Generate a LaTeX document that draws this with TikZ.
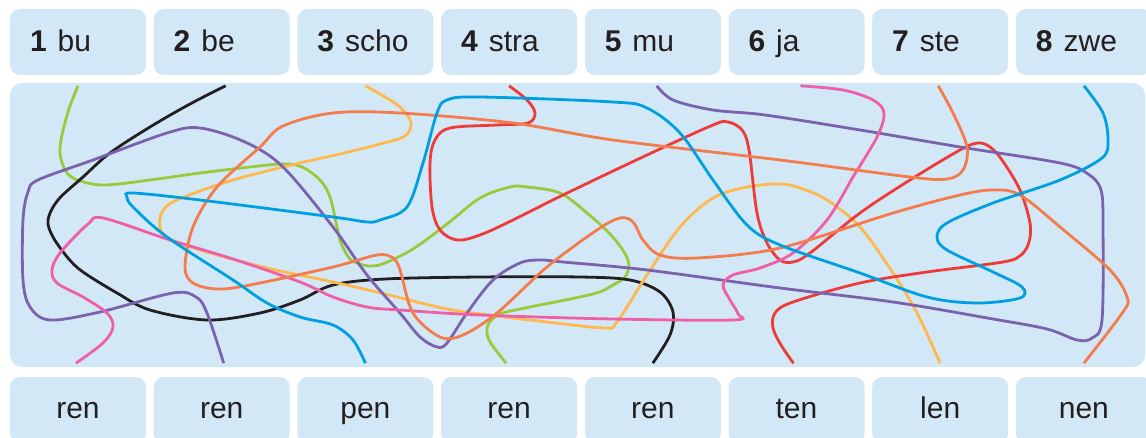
\documentclass[tikz,border=0pt]{standalone}
\usepackage{fontspec}
\setmainfont{Liberation Sans}
\usepackage{tikz}

\definecolor{boxblue}{HTML}{D3E8F6}
\definecolor{inkgrey}{HTML}{231F20}
\definecolor{wgreen}{HTML}{9ACA3C}
\definecolor{wblack}{HTML}{231F20}
\definecolor{wyellow}{HTML}{FDB94E}
\definecolor{wred}{HTML}{EE3B39}
\definecolor{wpurple}{HTML}{7B62AE}
\definecolor{wpink}{HTML}{EF5FA7}
\definecolor{worange}{HTML}{F47B4B}
\definecolor{wblue}{HTML}{00A0E0}

\tikzset{
  syllable/.style={rectangle, rounded corners=10pt, fill=boxblue, minimum width=136pt, minimum height=66pt,
    inner xsep=20pt, inner ysep=0pt, text width=96pt, align=left, text height=24pt, text depth=4pt,
    text=inkgrey, font=\fontsize{30}{36}\selectfont},
  ending/.style={rectangle, rounded corners=10pt, fill=boxblue, minimum width=136pt, minimum height=66pt,
    inner sep=0pt, text height=16pt, text depth=0pt, text=inkgrey, font=\fontsize{30}{36}\selectfont},
  board/.style={rectangle, rounded corners=12pt, fill=boxblue, minimum width=1135pt, minimum height=284pt, inner sep=0pt},
  wire/.style={line width=2.8pt}
}

\begin{document}
\begin{tikzpicture}[x=1pt, y=-1pt]
      % Frame
      \useasboundingbox (0,0) rectangle (1146,438);
      \clip (0,0) rectangle (1146,438);

      % Syllables
      \node[syllable] (syl1) at (78,42)     {\textbf{1}\hspace{11pt}bu};
      \node[syllable] (syl2) at (221.7,42)  {\textbf{2}\hspace{11pt}be};
      \node[syllable] (syl3) at (365.4,42)  {\textbf{3}\hspace{11pt}scho};
      \node[syllable] (syl4) at (509.1,42)  {\textbf{4}\hspace{11pt}stra};
      \node[syllable] (syl5) at (652.8,42)  {\textbf{5}\hspace{11pt}mu};
      \node[syllable] (syl6) at (796.5,42)  {\textbf{6}\hspace{11pt}ja};
      \node[syllable] (syl7) at (940.2,42)  {\textbf{7}\hspace{11pt}ste};
      \node[syllable] (syl8) at (1083.9,42) {\textbf{8}\hspace{11pt}zwe};

      % Board
      \node[board] (panel) at (577.5,225) {};

      % Endings
      \node[ending] (end1) at (78,410)     {ren};
      \node[ending] (end2) at (221.7,410)  {ren};
      \node[ending] (end3) at (365.4,410)  {pen};
      \node[ending] (end4) at (509.1,410)  {ren};
      \node[ending] (end5) at (652.8,410)  {ren};
      \node[ending] (end6) at (796.5,410)  {ten};
      \node[ending] (end7) at (940.2,410)  {len};
      \node[ending] (end8) at (1083.9,410) {nen};

      % Line ends
      \coordinate[yshift=-3pt] (top1) at (syl1.south |- panel.north);
      \coordinate[xshift=4pt, yshift=-3pt] (top2) at (syl2.south |- panel.north);
      \coordinate[yshift=-3pt] (top3) at (syl3.south |- panel.north);
      \coordinate[yshift=-3pt] (top4) at (syl4.south |- panel.north);
      \coordinate[xshift=4pt, yshift=-3pt] (top5) at (syl5.south |- panel.north);
      \coordinate[xshift=4pt, yshift=-3pt] (top6) at (syl6.south |- panel.north);
      \coordinate[xshift=-2pt, yshift=-3pt] (top7) at (syl7.south |- panel.north);
      \coordinate[yshift=-3pt] (top8) at (syl8.south |- panel.north);
      \coordinate[xshift=-2pt, yshift=4pt] (bot1) at (end1.north |- panel.south);
      \coordinate[xshift=2pt, yshift=4pt] (bot2) at (end2.north |- panel.south);
      \coordinate[yshift=4pt] (bot3) at (end3.north |- panel.south);
      \coordinate[xshift=-3pt, yshift=4pt] (bot4) at (end4.north |- panel.south);
      \coordinate[yshift=4pt] (bot5) at (end5.north |- panel.south);
      \coordinate[xshift=-3pt, yshift=4pt] (bot6) at (end6.north |- panel.south);
      \coordinate[yshift=4pt] (bot7) at (end7.north |- panel.south);
      \coordinate[yshift=4pt] (bot8) at (end8.north |- panel.south);

      % Lines
      % bu - ren
      \draw[wire, wgreen] plot[smooth, tension=0.55] coordinates {(top1) (68,112) (60,147) (64,168) (75,179) (103,185)
        (150,180) (200,173) (250,167) (283,164) (302,167) (320,180) (330,197) (337,227) (341,243) (350,259)
        (363,265) (373,266) (385,263) (413,249) (447,224) (480,198) (510,187) (527,187) (560,193) (587,213)
        (610,234) (624,252) (629,265) (625,277) (613,285) (593,294) (530,307) (500,314) (488,325) (489,340) (bot4)};
      % be - ren
      \draw[wire, wblack] plot[smooth, tension=0.55] coordinates {(top2) (190,104) (150,127) (110,153) (83,177)
        (58,200) (48,220) (53,237) (68,258) (83,272) (117,293) (150,310) (207,320) (260,313) (300,300) (333,285)
        (385,279) (480,277) (580,277) (630,280) (660,292) (673,312) (670,335) (bot5)};
      % scho - len
      \draw[wire, wyellow] plot[smooth, tension=0.55] coordinates {(top3) (385,97) (400,107) (411,122) (405,136)
        (380,144) (340,154) (300,163) (233,180) (177,200) (162,212) (160,227) (168,238) (200,250) (267,268)
        (333,282) (385,294) (447,309) (497,316) (547,322) (605,328) (617,322) (647,275) (680,227) (713,198)
        (747,187) (780,184) (800,188) (827,200) (860,227) (893,273) (917,313) (bot7)};
      % stra - ten
      \draw[wire, wred] plot[smooth, tension=0.55] coordinates {(top4) (527,100) (535,113) (528,123) (497,125)
        (450,128) (435,140) (430,163) (432,207) (440,230) (457,240) (480,235) (513,220) (563,195) (647,155)
        (713,125) (728,122) (742,130) (749,150) (757,213) (767,243) (780,260) (793,262) (810,253) (860,213)
        (910,180) (960,150) (978,143) (990,147) (1002,160) (1020,190) (1030,223) (1029,242) (1021,255)
        (1003,262) (927,272) (860,283) (793,302) (775,313) (773,328) (781,345) (bot6)};
      % mu - ren
      \draw[wire, wpurple] plot[smooth, tension=0.55] coordinates {(top5) (673,100) (713,110) (765,115) (860,130)
        (960,147) (1060,163) (1088,174) (1101,190) (1103,227) (1102,320) (1092,338) (1077,340) (1047,329)
        (993,319) (893,302) (780,288) (647,270) (563,262) (540,260) (520,263) (493,280) (467,313) (447,343)
        (437,347) (420,337) (400,313) (367,275) (333,227) (283,167) (245,142) (200,128) (167,133) (93,160)
        (38,180) (28,192) (23,220) (23,280) (30,307) (50,320) (100,312) (173,293) (196,297) (207,313) (bot2)};
      % ja - ren
      \draw[wire, wpink] plot[smooth, tension=0.55] coordinates {(top6) (843,90) (873,100) (884,113) (877,137)
        (853,177) (827,220) (793,253) (760,268) (733,275) (723,285) (730,300) (738,314) (733,320) (613,319)
        (480,315) (400,310) (367,307) (333,297) (300,282) (233,259) (167,239) (103,218) (88,224) (60,253)
        (52,270) (57,283) (83,297) (107,313) (113,327) (103,343) (bot1)};
      % ste - nen
      \draw[wire, worange] plot[smooth, tension=0.55] coordinates {(top7) (953,113) (967,147) (963,170) (947,179)
        (910,177) (780,160) (613,140) (513,123) (400,113) (333,113) (283,126) (260,147) (217,187) (193,227)
        (185,267) (193,283) (217,289) (250,285) (333,267) (377,255) (393,258) (400,270) (413,313) (440,337)
        (463,335) (497,313) (547,267) (597,230) (620,218) (633,222) (643,240) (660,255) (697,258) (780,248)
        (893,213) (960,195) (993,190) (1020,195) (1060,227) (1110,270) (1127,297) (1123,312) (bot8)};
      % zwe - pen
      \draw[wire, wblue] plot[smooth, tension=0.55] coordinates {(top8) (1103,113) (1108,140) (1102,158)
        (1060,180) (993,203) (947,223) (937,237) (947,250) (993,272) (1022,287) (1020,298) (977,303) (927,297)
        (860,273) (780,245) (747,225) (713,180) (680,133) (647,108) (613,102) (480,97) (447,100) (437,113)
        (423,163) (407,207) (380,220) (367,222) (333,217) (200,200) (133,193) (127,197) (133,207) (167,237)
        (233,280) (267,303) (300,317) (333,325) (353,340) (bot3)};

    \end{tikzpicture}
\end{document}
